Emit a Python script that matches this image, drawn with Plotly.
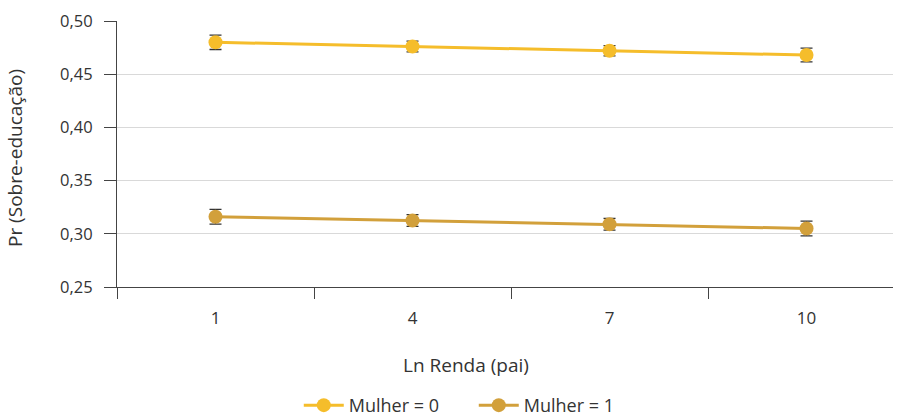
import plotly.graph_objects as go

categories = ["1", "4", "7", "10"]
mulher0 = [0.480, 0.476, 0.472, 0.468]
mulher0_err = [0.0068, 0.0050, 0.0048, 0.0065]
mulher1 = [0.316, 0.3125, 0.309, 0.305]
mulher1_err = [0.0070, 0.0055, 0.0055, 0.0070]
series_names = ["Mulher = 0", "Mulher = 1"]
y_ticks = [0.25, 0.30, 0.35, 0.40, 0.45, 0.50]

colors = ["#F5BD2B", "#D2A03B"]
xpos = list(range(len(categories)))

fig = go.Figure()
for name, vals, errs, col in zip(series_names, [mulher0, mulher1], [mulher0_err, mulher1_err], colors):
    fig.add_trace(go.Scatter(
        x=xpos, y=vals, name=name, mode="lines+markers",
        line=dict(color=col, width=3),
        marker=dict(color=col, size=14),
        error_y=dict(type="data", array=errs, visible=True, color="#333333", thickness=1.3, width=6),
    ))

fig.update_layout(
    width=899, height=418,
    margin=dict(l=117, r=6, t=21, b=131),
    paper_bgcolor="white", plot_bgcolor="white",
    separators=",.",
    font=dict(family="Open Sans, Noto Sans, sans-serif", size=17, color="#333333"),
    showlegend=True,
    legend=dict(orientation="h", xref="container", yref="container",
                x=0.527, xanchor="center", y=0.03, yanchor="middle",
                font=dict(size=18, color="#333333"), itemwidth=40, tracegroupgap=0,
                entrywidth=120, entrywidthmode="pixels"),
    xaxis=dict(
        range=[-0.5, 3.439], tickvals=xpos, ticktext=categories, ticks="",
        showgrid=False, zeroline=False, showline=True, linecolor="#444444", linewidth=1,
        tickfont=dict(size=17, color="#333333"), automargin=False, ticklabelstandoff=16,
        minor=dict(tick0=-0.5, dtick=1, ticks="outside", ticklen=11, tickcolor="#444444", showgrid=False),
    ),
    yaxis=dict(
        range=[0.25, 0.50], tickvals=y_ticks, tickformat=".2f", ticks="outside", ticklen=12,
        tickcolor="#444444", showgrid=True, gridcolor="#d9d9d9", gridwidth=1, zeroline=False,
        showline=True, linecolor="#444444", linewidth=1, automargin=False,
        tickfont=dict(size=16.5, color="#333333"), ticklabelstandoff=8,
    ),
    annotations=[
        dict(text="Ln Renda (pai)", xref="paper", yref="paper", x=0.45, y=-0.293,
             showarrow=False, font=dict(size=19, color="#333333"), xanchor="center", yanchor="middle"),
        dict(text="Pr (Sobre-educação)", xref="paper", yref="paper", x=-0.1314, y=0.485,
             textangle=-90, showarrow=False, font=dict(size=19, color="#333333"),
             xanchor="center", yanchor="middle"),
    ],
)

fig.write_html("out.html", config={"displayModeBar": False},
               post_script="document.body.style.margin='0';document.body.style.padding='0';")
